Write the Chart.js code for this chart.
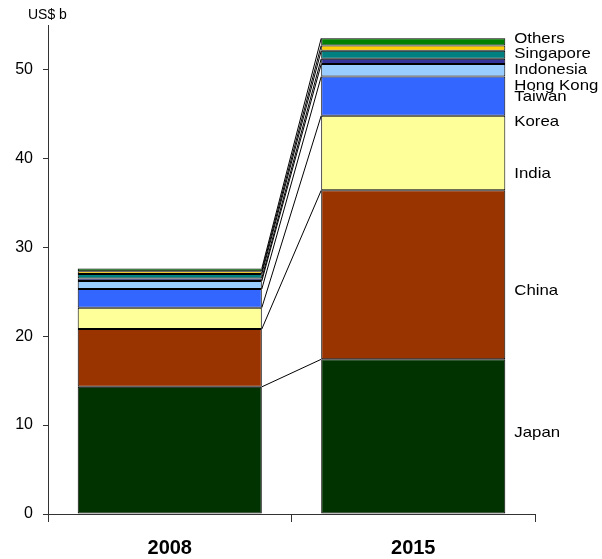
<!DOCTYPE html>
<html>
<head>
<meta charset="utf-8">
<script src="https://cdn.jsdelivr.net/npm/chart.js@4.4.1/dist/chart.umd.min.js"></script>
<style>
    html, body { margin: 0; padding: 0; background: #fff; }
    #wrap { width: 602px; height: 559px; position: relative; }
</style>
</head>
<body>
<div id="wrap"><canvas id="chart"></canvas></div>
<script>
// data (US$ b)
const years = ['2008', '2015'];
const countries = ['Japan', 'China', 'India', 'Korea', 'Taiwan', 'Hong Kong', 'Indonesia', 'Singapore', 'Others'];
const values2008 = [14.3, 6.5, 2.4, 2.1, 0.9, 0.3, 0.5, 0.3, 0.3];
const values2015 = [17.4, 19.0, 8.4, 4.4, 1.4, 0.6, 0.9, 0.6, 0.8];
const colours = ['#003300', '#993300', '#FFFF99', '#3366FF', '#99CCFF', '#333399', '#008080', '#FFCC00', '#008000'];
// where the country names sit on the right (in US$ b)
const labelValues = [9.1, 25.1, 38.3, 44.1, 46.9, 48.2, 49.9, 51.8, 53.45];
const yTicks = [0, 10, 20, 30, 40, 50];

const datasets = countries.map(function(name, i) {
    return {
        label: name,
        data: [values2008[i], values2015[i]],
        backgroundColor: colours[i],
        borderColor: '#000',
        borderWidth: 1,
        borderSkipped: false,
        categoryPercentage: 1,
        barPercentage: 0.756
    };
});

// series lines between the two stacks + names on the right + unit text
const extras = {
    id: 'extras',
    afterDatasetsDraw(chart) {
        const ctx = chart.ctx;
        const y = chart.scales.y;
        ctx.save();
        ctx.strokeStyle = '#000';
        ctx.lineWidth = 1;
        let rightEdge = 0;
        chart.data.datasets.forEach(function(ds, i) {
            const meta = chart.getDatasetMeta(i);
            const a = meta.data[0], b = meta.data[1];
            ctx.beginPath();
            ctx.moveTo(a.x + a.width / 2, a.y);
            ctx.lineTo(b.x - b.width / 2, b.y);
            ctx.stroke();
            rightEdge = b.x + b.width / 2;
        });
        ctx.fillStyle = '#000';
        ctx.font = '15px "Liberation Sans", Arial, sans-serif';
        ctx.textBaseline = 'middle';
        ctx.textAlign = 'left';
        countries.forEach(function(name, i) {
            // the original text is a little wider than the font
            ctx.save();
            ctx.translate(rightEdge + 9, y.getPixelForValue(labelValues[i]));
            ctx.scale(1.12, 1);
            ctx.fillText(name, 0, 0);
            ctx.restore();
        });
        ctx.font = '14px "Liberation Sans", Arial, sans-serif';
        ctx.fillText('US$ b', 28, 15);
        ctx.restore();
    }
};

new Chart(document.getElementById('chart'), {
    type: 'bar',
    data: { labels: years, datasets: datasets },
    plugins: [extras],
    options: {
        responsive: true,
        maintainAspectRatio: false,
        animation: false,
        layout: { padding: { left: 0, right: 67, top: 25, bottom: 0 } },
        plugins: { legend: { display: false }, tooltip: { enabled: false } },
        scales: {
            x: {
                stacked: true,
                grid: { drawOnChartArea: false, tickLength: 8, color: '#333', offset: true },
                border: { color: '#333' },
                ticks: {
                    color: '#000',
                    padding: 14,
                    font: { family: '"Liberation Sans", Arial, sans-serif', size: 20, weight: 'bold' }
                },
                afterFit: function(s) { s.height = 45; }
            },
            y: {
                stacked: true,
                min: 0,
                max: 55,
                afterBuildTicks: function(s) {
                    s.ticks = yTicks.map(function(v) { return { value: v }; });
                },
                grid: { drawOnChartArea: false, tickLength: 5, color: '#333' },
                border: { color: '#333' },
                ticks: {
                    color: '#000',
                    padding: 10,
                    font: { family: '"Liberation Sans", Arial, sans-serif', size: 16 }
                },
                afterFit: function(s) { s.width = 48; }
            }
        }
    }
});
</script>
</body>
</html>
